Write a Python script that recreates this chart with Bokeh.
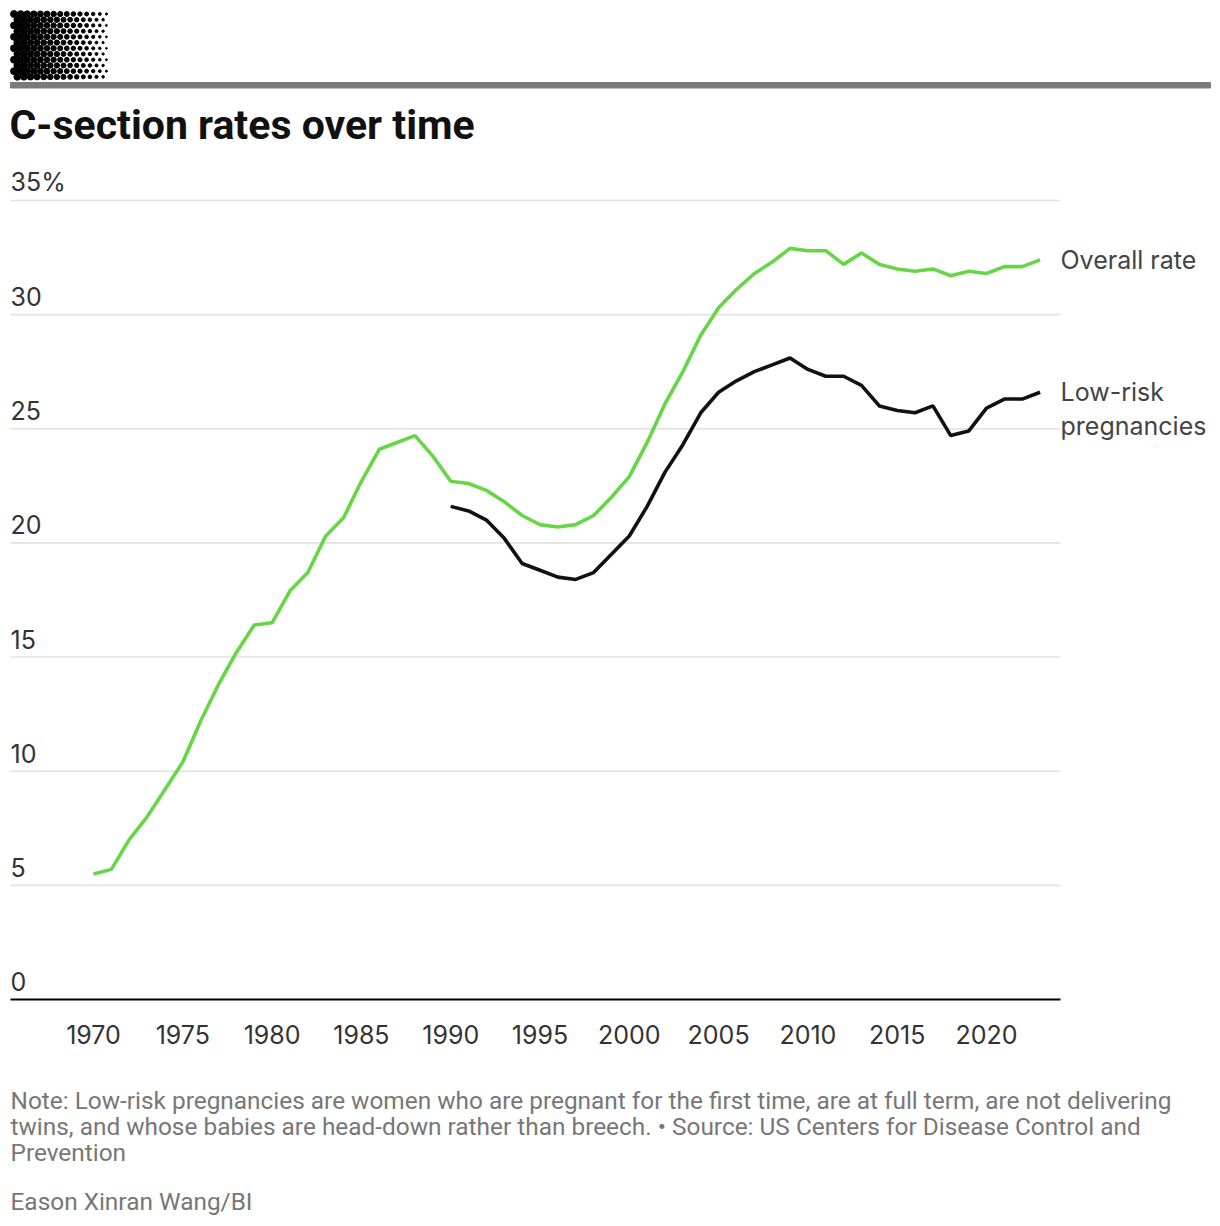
import numpy as np
from bokeh.plotting import figure
from bokeh.models import Range1d
from bokeh.core.properties import value
from bokeh.embed import file_html
from bokeh.resources import INLINE

# ---------------- data ----------------
title_text = "C-section rates over time"
years_overall = list(range(1970, 2024))
overall_rate = [5.5, 5.7, 7.0, 8.0, 9.2, 10.4, 12.2, 13.8, 15.2, 16.4,
                16.5, 17.9, 18.7, 20.3, 21.1, 22.7, 24.1, 24.4, 24.7, 23.8,
                22.7, 22.6, 22.3, 21.8, 21.2, 20.8, 20.7, 20.8, 21.2, 22.0,
                22.9, 24.4, 26.1, 27.5, 29.1, 30.3, 31.1, 31.8, 32.3, 32.9,
                32.8, 32.8, 32.2, 32.7, 32.2, 32.0, 31.9, 32.0, 31.7, 31.9,
                31.8, 32.1, 32.1, 32.4]
years_lowrisk = list(range(1990, 2024))
lowrisk_rate = [21.6, 21.4, 21.0, 20.2, 19.1, 18.8, 18.5, 18.4, 18.7, 19.5,
                20.3, 21.6, 23.1, 24.3, 25.7, 26.6, 27.1, 27.5, 27.8, 28.1,
                27.6, 27.3, 27.3, 26.9, 26.0, 25.8, 25.7, 26.0, 24.7, 24.9,
                25.9, 26.3, 26.3, 26.6]
y_ticks = [0, 5, 10, 15, 20, 25, 30, 35]
y_tick_labels = ["0", "5", "10", "15", "20", "25", "30", "35%"]
x_ticks = [1970, 1975, 1980, 1985, 1990, 1995, 2000, 2005, 2010, 2015, 2020]
x_tick_labels = [str(t) for t in x_ticks]
series_names = ["Overall rate", "Low-risk", "pregnancies"]
note_lines = [
    "Note: Low-risk pregnancies are women who are pregnant for the first time, are at full term, are not delivering",
    "twins, and whose babies are head-down rather than breech. \u2022 Source: US Centers for Disease Control and",
    "Prevention",
]
credit = "Eason Xinran Wang/BI"

GREEN = "#66D646"
TICK_FONT = "Inter"
TEXT_FONT = "Roboto"

# ---------------- scales: page pixel <-> data ----------------
PX_1970, PX_PER_YEAR = 93.0, 17.86
PY_ZERO, PX_PER_PCT = 999.0, 22.83
W, H = 1218, 1224


def X(px):
    return 1970 + (px - PX_1970) / PX_PER_YEAR


def Y(py):
    return (PY_ZERO - py) / PX_PER_PCT


def DY(pixels):
    return pixels / PX_PER_PCT


p = figure(width=W, height=H, x_range=Range1d(X(0), X(W)), y_range=Range1d(Y(H), Y(0)),
           output_backend="svg", toolbar_location=None, min_border=0,
           x_axis_location=None, y_axis_location=None, outline_line_color=None)
p.grid.visible = False

# ---------------- header: halftone, rule, title ----------------
hx, hy, hr = [], [], []
sp = 6.6
j = 0
py = 13.5
while py < 79:
    px = 13.5 + (j % 2) * sp / 2
    while px < 109:
        t = (px - 10) / 100.0
        r = 3.0 * (1 - t) ** 0.5 + 0.5 - 0.25 * (1 - abs(py - 45) / 35) * t
        hx.append(X(px)); hy.append(Y(py)); hr.append(max(r, 0.4))
        px += sp
    py += sp * 0.866
    j += 1
p.circle(x=hx, y=hy, radius=hr, radius_units="screen", color="black")
p.quad(left=X(10), right=X(1210), bottom=Y(87.5), top=Y(82), color="#7a7a7a")
p.text(x=[X(9)], y=[Y(124)], text=[title_text], text_font=value(TEXT_FONT), text_font_style="bold",
       text_font_size="41px", text_color="#111111", text_baseline="alphabetic")

# ---------------- chart ----------------
grid_y = y_ticks[1:]
p.segment(x0=[X(10)] * len(grid_y), x1=[X(1060)] * len(grid_y), y0=grid_y, y1=grid_y,
          line_color="#e2e2e2", line_width=1.6)
p.segment(x0=[X(10)], x1=[X(1060)], y0=[0], y1=[0], line_color="black", line_width=2)

p.text(x=[X(10)] * len(y_ticks), y=[v + DY(18) for v in y_ticks], text=y_tick_labels,
       text_font=value(TICK_FONT), text_font_size="25px", text_color="#333333",
       text_align="left", text_baseline="alphabetic")
p.text(x=x_ticks, y=[Y(1034)] * len(x_ticks), text=x_tick_labels,
       text_font=value(TICK_FONT), text_font_size="25px", text_color="#333333",
       text_align="center", text_baseline="alphabetic")

p.line(years_overall, overall_rate, line_color=GREEN, line_width=3.6)
p.line(years_lowrisk, lowrisk_rate, line_color="#111111", line_width=3.6)

lab_x = X(1060)
p.text(x=[lab_x, lab_x, lab_x],
       y=[overall_rate[-1], lowrisk_rate[-1], lowrisk_rate[-1] - DY(34)],
       text=series_names, text_font=value(TICK_FONT), text_font_size="25px",
       text_color="#444444", text_align="left", text_baseline="middle")

# ---------------- footer ----------------
p.text(x=[X(10)] * 3, y=[Y(1100), Y(1126), Y(1152)], text=note_lines, text_font=value(TEXT_FONT),
       text_font_size="24.4px", text_color="#777777", text_baseline="middle")
p.text(x=[X(10)], y=[Y(1201)], text=[credit], text_font=value(TEXT_FONT),
       text_font_size="24.4px", text_color="#777777", text_baseline="middle")

open("out.html", "w").write(file_html(p, INLINE))
